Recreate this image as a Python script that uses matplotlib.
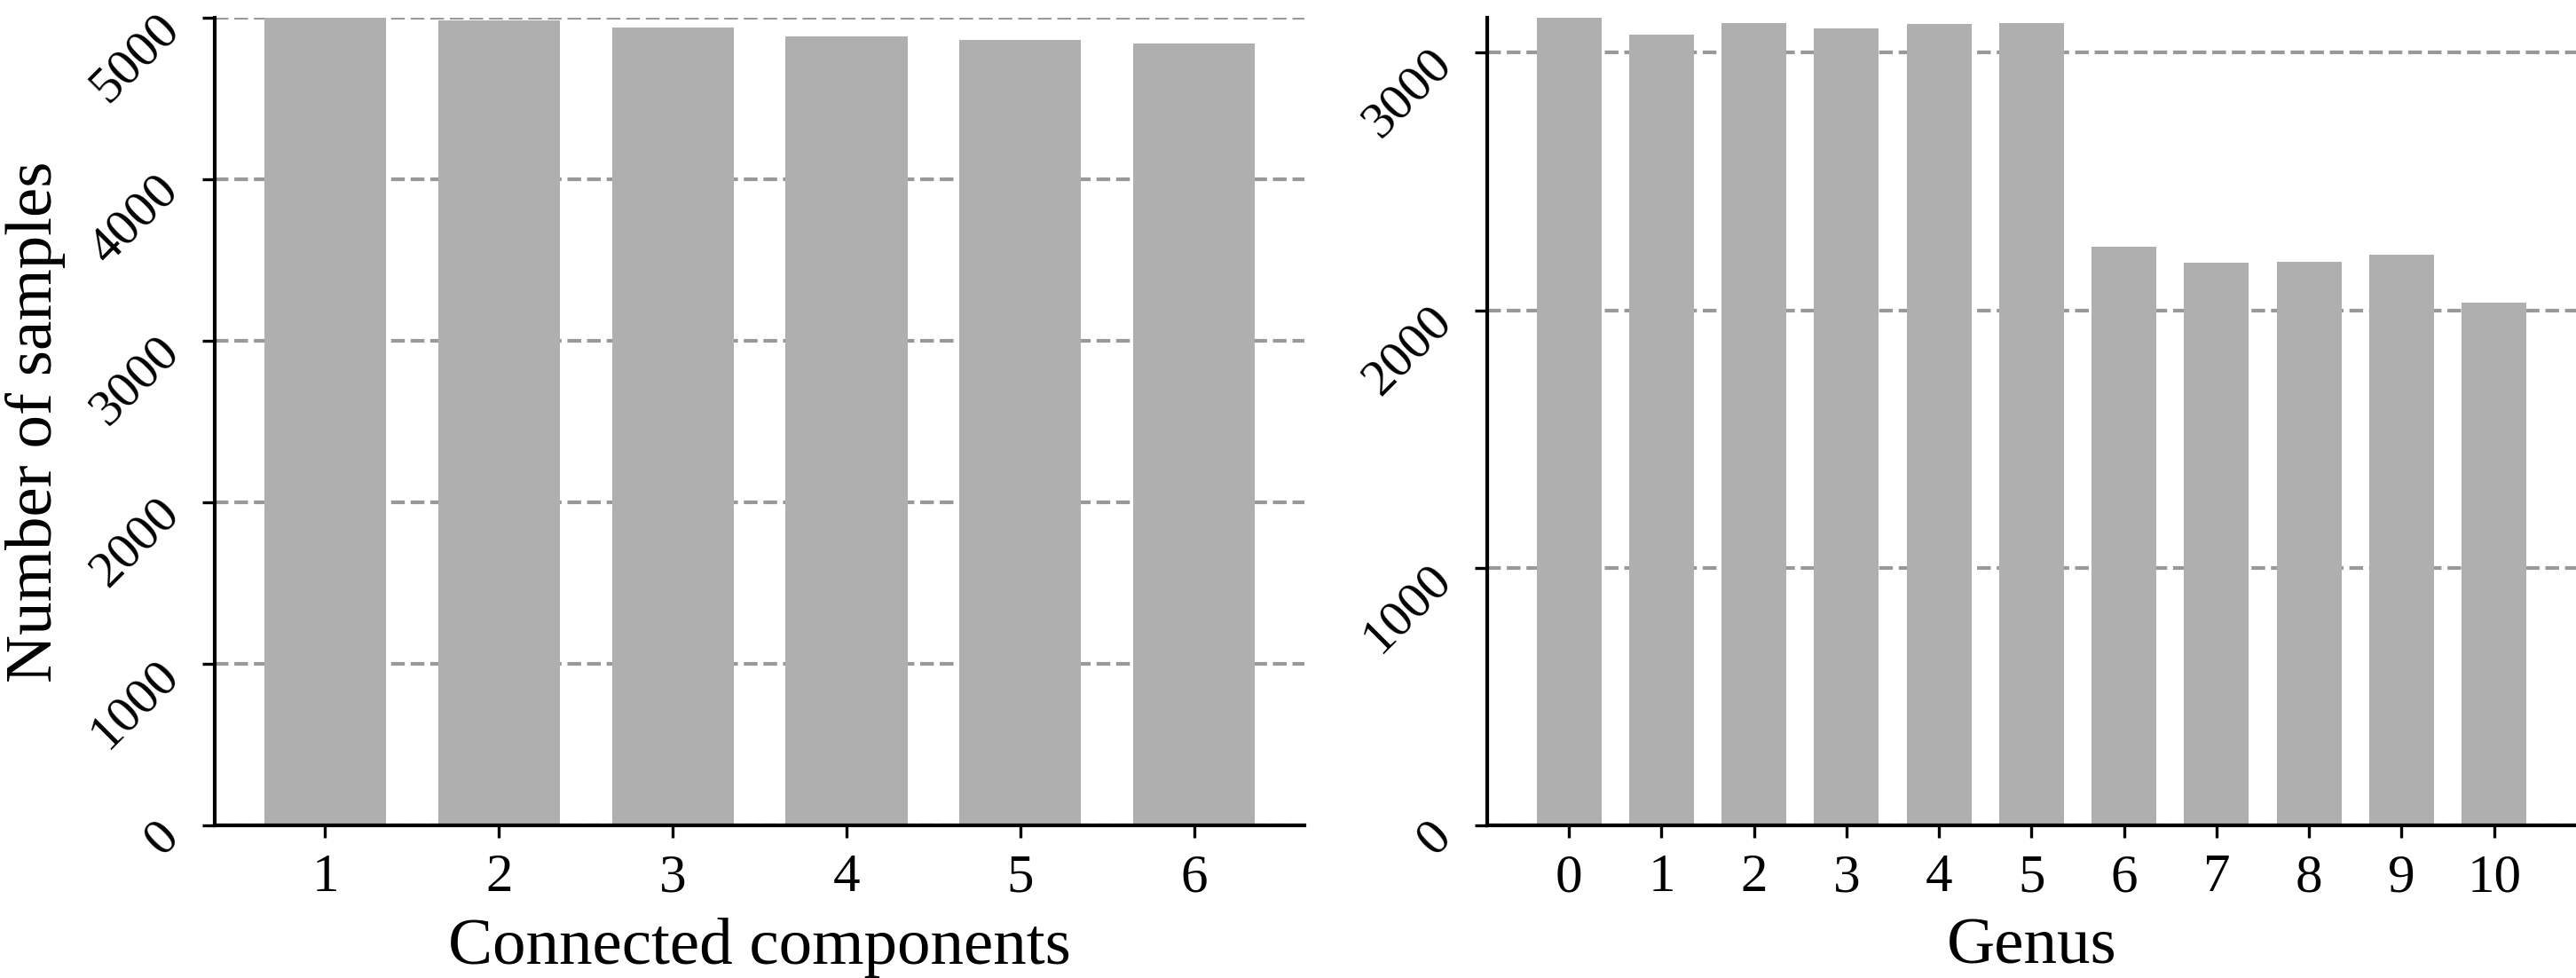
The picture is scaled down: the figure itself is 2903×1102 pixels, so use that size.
import matplotlib
matplotlib.use("Agg")
import matplotlib.pyplot as plt

# bar heights
components = [1, 2, 3, 4, 5, 6]
comp_counts = [5000, 4984, 4942, 4883, 4863, 4839]
genus = list(range(11))
genus_counts = [3136, 3070, 3116, 3093, 3110, 3114, 2246, 2185, 2188, 2217, 2028]

plt.rcParams["font.family"] = ["Liberation Serif", "DejaVu Serif"]
plt.rcParams["axes.linewidth"] = 1.5

bar_color = "#afafaf"
label_fs = 27

fig = plt.figure(figsize=(14.515, 5.51), dpi=200)
ax1 = fig.add_axes([0.0834, 0.1561, 0.4230, 0.8258])
ax2 = fig.add_axes([0.5773, 0.1561, 0.4227, 0.8258])

for ax, xs, ys in [(ax1, components, comp_counts), (ax2, genus, genus_counts)]:
    ax.bar(xs, ys, width=0.7, color=bar_color, zorder=2)
    ax.set_ylim(0, max(ys))
    ax.set_xticks(xs)
    ax.set_yticks(range(0, int(max(ys)) + 1, 1000))
    ax.yaxis.grid(True, linestyle="--", color="#999999", linewidth=1.5)
    ax.set_axisbelow(True)
    ax.spines["top"].set_visible(False)
    ax.spines["right"].set_visible(False)
    ax.tick_params(axis="both", length=5, width=1.2)
    ax.tick_params(axis="x", labelsize=22, pad=6.5)
    ax.tick_params(axis="y", labelsize=21, pad=14)
    # slanted count labels like the original
    plt.setp(ax.get_yticklabels(), rotation=45, ha="right",
             rotation_mode="anchor")

ax1.set_xlabel("Connected components", fontsize=label_fs, labelpad=5.8)
ax1.set_ylabel("Number of samples", fontsize=label_fs, labelpad=6.5)
ax2.set_xlabel("Genus", fontsize=label_fs, labelpad=5.8)

fig.savefig("out.png", dpi=200)
plt.close(fig)
